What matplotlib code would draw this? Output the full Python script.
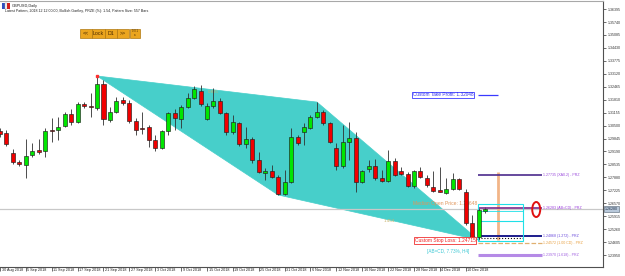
import matplotlib
matplotlib.use('Agg')
import matplotlib.pyplot as plt
from matplotlib.patches import Rectangle, Polygon, Ellipse
import matplotlib.transforms as mtrans

plt.rcParams['font.family'] = ['Liberation Sans', 'DejaVu Sans']

# ---------------- data ----------------
symbol_title = "GBPUSD,Daily"
info_line = "Latest Pattern, 2018.12.12 00:00, Bullish Gartley, PRZE (%): 1.54, Pattern Size: 557 Bars"

date_labels = ["30 Aug 2018", "5 Sep 2018", "11 Sep 2018", "17 Sep 2018", "21 Sep 2018",
               "27 Sep 2018", "3 Oct 2018", "9 Oct 2018", "15 Oct 2018", "19 Oct 2018",
               "25 Oct 2018", "31 Oct 2018", "6 Nov 2018", "12 Nov 2018", "16 Nov 2018",
               "22 Nov 2018", "28 Nov 2018", "4 Dec 2018", "10 Dec 2018"]
date_label_bars = [0, 4, 8, 12, 16, 20, 24, 28, 32, 36, 40, 44, 48, 52, 56, 60, 64, 68, 72]

opens = [1.3023, 1.3013, 1.2911, 1.2866, 1.2851, 1.2901, 1.2927, 1.2921, 1.3028, 1.3028,
         1.3048, 1.3109, 1.3068, 1.3159, 1.3149, 1.3139, 1.3260, 1.3078, 1.3119, 1.3180,
         1.3164, 1.3073, 1.3038, 1.3043, 1.2977, 1.2937, 1.3023, 1.3114, 1.3083, 1.3144,
         1.3190, 1.3225, 1.3083, 1.3149, 1.3175, 1.3114, 1.3018, 1.3063, 1.2957, 1.2982,
         1.2876, 1.2810, 1.2820, 1.2790, 1.2704, 1.2765, 1.2992, 1.3018, 1.3038, 1.3094,
         1.3119, 1.3063, 1.2937, 1.2846, 1.2967, 1.2987, 1.2765, 1.2830, 1.2846, 1.2785,
         1.2770, 1.2871, 1.2820, 1.2805, 1.2744, 1.2820, 1.2785, 1.2739, 1.2724, 1.2709,
         1.2729, 1.2780, 1.2714, 1.2557, 1.2486, 1.2618]
highs = [1.3038, 1.3028, 1.2932, 1.2876, 1.2982, 1.2962, 1.2982, 1.3038, 1.3089, 1.3094,
         1.3119, 1.3134, 1.3169, 1.3169, 1.3215, 1.3301, 1.3281, 1.3144, 1.3195, 1.3195,
         1.3180, 1.3089, 1.3119, 1.3053, 1.3002, 1.3028, 1.3119, 1.3134, 1.3154, 1.3215,
         1.3250, 1.3255, 1.3164, 1.3240, 1.3190, 1.3119, 1.3104, 1.3068, 1.3043, 1.2992,
         1.2916, 1.2835, 1.2851, 1.2800, 1.2825, 1.3038, 1.3002, 1.3063, 1.3104, 1.3169,
         1.3129, 1.3068, 1.2962, 1.3053, 1.3068, 1.3018, 1.2825, 1.2876, 1.2881, 1.2825,
         1.2927, 1.2886, 1.2841, 1.2815, 1.2825, 1.2841, 1.2800, 1.2820, 1.2841, 1.2785,
         1.2810, 1.2785, 1.2729, 1.2598, 1.2633, 1.2638]
lows = [1.2992, 1.2947, 1.2856, 1.2846, 1.2785, 1.2891, 1.2906, 1.2891, 1.2967, 1.2977,
        1.3043, 1.3053, 1.3063, 1.3139, 1.3094, 1.3129, 1.3053, 1.3068, 1.3114, 1.3154,
        1.3063, 1.3002, 1.3008, 1.2942, 1.2921, 1.2932, 1.3002, 1.3028, 1.3038, 1.3139,
        1.3185, 1.3149, 1.3078, 1.3139, 1.3109, 1.3002, 1.3008, 1.2947, 1.2937, 1.2861,
        1.2810, 1.2775, 1.2785, 1.2699, 1.2699, 1.2760, 1.2952, 1.2952, 1.3033, 1.3089,
        1.3053, 1.2962, 1.2825, 1.2835, 1.2876, 1.2714, 1.2760, 1.2815, 1.2775, 1.2765,
        1.2765, 1.2795, 1.2800, 1.2739, 1.2734, 1.2785, 1.2739, 1.2714, 1.2714, 1.2704,
        1.2724, 1.2724, 1.2547, 1.2481, 1.2471, 1.2608]
closes = [1.3008, 1.2957, 1.2866, 1.2856, 1.2896, 1.2921, 1.2916, 1.3023, 1.3023, 1.3043,
          1.3109, 1.3068, 1.3159, 1.3149, 1.3144, 1.3260, 1.3083, 1.3119, 1.3175, 1.3164,
          1.3073, 1.3028, 1.3033, 1.2977, 1.2937, 1.3023, 1.3114, 1.3089, 1.3144, 1.3190,
          1.3235, 1.3159, 1.3149, 1.3175, 1.3114, 1.3018, 1.3068, 1.2957, 1.2982, 1.2876,
          1.2815, 1.2820, 1.2790, 1.2704, 1.2765, 1.2992, 1.2962, 1.3043, 1.3094, 1.3119,
          1.3063, 1.2967, 1.2846, 1.2967, 1.2987, 1.2765, 1.2820, 1.2846, 1.2785, 1.2770,
          1.2871, 1.2800, 1.2805, 1.2744, 1.2820, 1.2790, 1.2749, 1.2719, 1.2714, 1.2729,
          1.2780, 1.2729, 1.2557, 1.2486, 1.2623, 1.2628]

price_ticks = [1.23950, 1.24605, 1.25260, 1.25915, 1.26570, 1.27225, 1.27880, 1.28535,
               1.29190, 1.29845, 1.30500, 1.31155, 1.31810, 1.32465, 1.33120, 1.33775,
               1.34430, 1.35085, 1.35740, 1.36395]

# pattern points (bar index, price)
pattern_X = (15, 1.3301)
pattern_A = (43, 1.2699)
pattern_B = (49, 1.3169)
pattern_D = (74, 1.2471)
ratio_XB = "0.835"
ratio_AD = "1.454"

take_profit = 1.32048
stop_loss = 1.24715
median_open = 1.25648
abcd_text = "[AB=CD, 7.73%, H4]"

prz_levels = [1.2800, 1.2633, 1.2491, 1.2456, 1.2395]
prz_labels = ["1.27735 (XA0.2) - PRZ", "1.26283 (AB=CD) - PRZ", "1.24868 (1.272) - PRZ",
              "1.24572 (1.00 CD) - PRZ", "1.23970 (1.618) - PRZ"]
prz_colors = ["#4B2A8C", "#7A2A8C", "#1C1C8C", "#E0B070", "#B58AE6"]
prz_text_colors = ["#9A4ADC", "#9A3ADC", "#6A4ADC", "#E8A040", "#A060E0"]
prz_widths = [1.2, 1.2, 1.4, 0.9, 2.2]
prz_styles = ['-', '-', '-', '--', '-']

# ---------------- layout helpers ----------------
W, H = 625, 276
AX_L, AX_R, AX_T, AX_B = 0, 603, 1, 267
BAR0_PX, BAR_STEP = -2.0, 6.49
P_REF, P_PER_PX = 1.36855, 0.000506


def px2bar(px):
    return (px - BAR0_PX) / BAR_STEP


def py2price(py):
    return P_REF - P_PER_PX * py


def fx(px):
    return px / W


def fy(py):
    return 1 - py / H


fig = plt.figure(figsize=(W / 100, H / 100), dpi=100)
fig.patch.set_facecolor('white')
ax = fig.add_axes([fx(AX_L), fy(AX_B), (AX_R - AX_L) / W, (AX_B - AX_T) / H])
ax.set_facecolor('white')
ax.set_xlim(px2bar(AX_L), px2bar(AX_R))
ax.set_ylim(py2price(AX_B), py2price(AX_T))

# frame
ax.spines['left'].set_visible(False)
ax.spines['top'].set_color('#A8A8A8')
ax.spines['top'].set_linewidth(0.8)
for s in ('right', 'bottom'):
    ax.spines[s].set_color('#505050')
    ax.spines[s].set_linewidth(0.8)

ax.yaxis.tick_right()
ax.set_yticks(price_ticks)
ax.set_yticklabels(["%.5f" % v for v in price_ticks])
ax.tick_params(axis='y', direction='out', length=2, width=0.5, pad=1.2,
               labelsize=2.6, colors='#303030')
ax.set_xticks(date_label_bars)
ax.set_xticklabels([])
ax.tick_params(axis='x', direction='out', length=3, width=0.5, colors='#303030')
bt = mtrans.blended_transform_factory(ax.transData, ax.transAxes)
for b, lab in zip(date_label_bars, date_labels):
    ax.text(b + 0.25, -0.004, lab, transform=bt, ha='left', va='top',
            fontsize=2.7, color='#202020', clip_on=False)

# pattern fill
tri1 = Polygon([pattern_X, pattern_A, pattern_B], closed=True, facecolor='#47CFCA',
               edgecolor='#47CFCA', lw=0.5, zorder=1)
tri2 = Polygon([pattern_A, pattern_B, pattern_D], closed=True, facecolor='#47CFCA',
               edgecolor='#47CFCA', lw=0.5, zorder=1)
ax.add_patch(tri1)
ax.add_patch(tri2)
ax.plot([pattern_X[0]], [pattern_X[1]], 's', color='#FF3030', ms=1.6, zorder=5)

# ratio labels
ax.text(px2bar(207), py2price(92), ratio_XB, fontsize=3.2, color='#C8B46E',
        va='center', ha='left', zorder=2)
ax.text(px2bar(383), py2price(221.5), ratio_AD, fontsize=3.2, color='#C8B46E',
        va='center', ha='left', zorder=2)

# current price line
last_close = closes[-1]
ax.axhline(last_close, color='#C8C8C8', lw=0.9, zorder=1.5)

# candles
idx = list(range(len(opens)))
bull = [c > o for o, c in zip(opens, closes)]
ax.vlines(idx, lows, highs, color='#303030', lw=0.6, zorder=3)
bottoms = [min(o, c) for o, c in zip(opens, closes)]
heights = [max(abs(c - o), 0.00012) for o, c in zip(opens, closes)]
ax.bar(idx, heights, bottom=bottoms, width=0.62,
       color=['#00E600' if b else '#F00000' for b in bull],
       edgecolor='#202020', linewidth=0.45, zorder=4)

# ---------------- right side PRZ drawing ----------------
x_start = px2bar(478)
x_end = px2bar(542)
for lvl, col, w, st, lab, tc in zip(prz_levels, prz_colors, prz_widths, prz_styles,
                                     prz_labels, prz_text_colors):
    ax.hlines(lvl, x_start, x_end, colors=col, lw=w, linestyles=st, zorder=3)
    ax.text(px2bar(543), lvl, lab, fontsize=2.6, color=tc, va='center', ha='left', zorder=5)
# dotted line under navy level
ax.hlines(py2price(238), x_start, px2bar(525), colors='#101010', lw=0.8,
          linestyles=':', zorder=3)

# cyan boxes
ax.add_patch(Rectangle((x_start, py2price(241)), px2bar(523) - x_start,
                       py2price(204) - py2price(241), fill=False, ec='#20E0E8', lw=0.8, zorder=3))
ax.hlines(py2price(221), x_start, px2bar(523), colors='#20E0E8', lw=0.8, zorder=3)
ax.hlines(py2price(211), x_start, px2bar(523), colors='#20E0E8', lw=0.6, zorder=3)

# vertical orange line
ax.vlines(px2bar(498), py2price(240), py2price(172), colors='#F2B588', lw=2.0, zorder=2.8)

# red ellipse
ax.add_patch(Ellipse((px2bar(536), py2price(209.5)), 8 / BAR_STEP, 15 * P_PER_PX,
                     fill=False, ec='#E01010', lw=1.4, zorder=6))

# take profit
ax.hlines(take_profit, px2bar(478), px2bar(498), colors='#3A3AFF', lw=0.9, zorder=3)
ax.text(px2bar(412.5), take_profit, "Custom Take Profit: %.5f" % take_profit,
        fontsize=3.4, color='#3030F0', va='center', ha='left', zorder=6,
        bbox=dict(boxstyle='square,pad=0.15', fc='white', ec='#3A3AFF', lw=0.6))

# median open price
ax.text(px2bar(412), py2price(204), "Median Open Price: %.5f" % median_open,
        fontsize=3.6, color='#E0955A', va='center', ha='left', zorder=3.5)

# stop loss
ax.text(px2bar(414), py2price(240.5), "Custom Stop Loss: %.5f" % stop_loss,
        fontsize=3.5, color='#F02020', va='center', ha='left', zorder=6,
        bbox=dict(boxstyle='square,pad=0.15', fc='white', ec='#F03030', lw=0.6))

ax.text(px2bar(426), py2price(251.5), abcd_text, fontsize=3.3, color='#3CC8D4',
        va='center', ha='left', zorder=6)

# current price label on the axis
fig.text(fx(605), fy(209), "%.5f" % last_close, fontsize=2.6, color='#1A2A40',
         va='center', ha='left',
         bbox=dict(boxstyle='square,pad=0.2', fc='#B8C8DA', ec='#506070', lw=0.4))

# ---------------- header ----------------
fig.add_artist(Rectangle((fx(2), fy(9)), 3 / W, 6 / H, transform=fig.transFigure,
                         fc='#3050C0', ec='none'))
fig.add_artist(Rectangle((fx(5), fy(9)), 2 / W, 6 / H, transform=fig.transFigure,
                         fc='white', ec='#A0A0A0', lw=0.3))
fig.add_artist(Rectangle((fx(7), fy(9)), 3 / W, 6 / H, transform=fig.transFigure,
                         fc='#D02020', ec='none'))
fig.text(fx(12), fy(5.5), symbol_title, fontsize=2.8, color='#202020', va='center', ha='left')
fig.text(fx(5), fy(11), info_line, fontsize=2.6, color='#202020', va='center', ha='left')

# lock buttons
btn_segments = [(80, 92, "<<"), (92, 105, "Lock"), (105, 117, "D1"), (117, 129, ">>")]
for x0, x1, t in btn_segments:
    fig.add_artist(Rectangle((fx(x0), fy(37.5)), (x1 - x0) / W, 8.5 / H,
                             transform=fig.transFigure, fc='#EBA51E', ec='#B07810', lw=0.5))
    fig.text(fx((x0 + x1) / 2), fy(33.3), t, fontsize=3.8, color='#4A2A00',
             va='center', ha='center')
fig.add_artist(Rectangle((fx(129.5), fy(37.5)), 10.5 / W, 8.5 / H,
                         transform=fig.transFigure, fc='#EBA51E', ec='#B07810', lw=0.5))
fig.text(fx(134.7), fy(31.5), "0 0 1", fontsize=1.8, color='#3A2000', va='center', ha='center')
fig.text(fx(134.7), fy(35.5), "a", fontsize=1.8, color='#3A2000', va='center', ha='center')

fig.savefig('out.png', dpi=100, facecolor='white')
